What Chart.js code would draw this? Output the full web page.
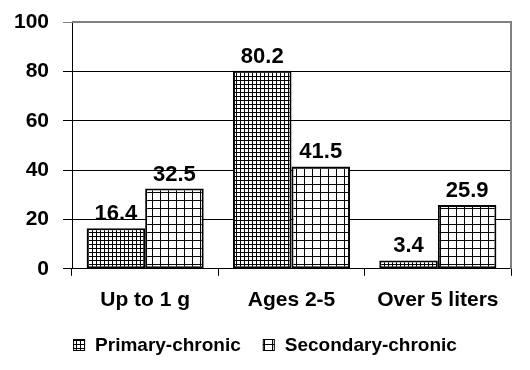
<!DOCTYPE html>
<html>
<head>
<meta charset="utf-8">
<script src="https://cdn.jsdelivr.net/npm/chart.js@4.4.0/dist/chart.umd.min.js"></script>
<style>
  html, body { margin: 0; padding: 0; background: #fff; }
  #wrap { width: 530px; height: 370px; }
</style>
</head>
<body>
<div id="wrap"><canvas id="chart" width="530" height="370"></canvas></div>
<script>
const categories = ['Up to 1 g', 'Ages 2-5', 'Over 5 liters'];
const primaryChronic = [16.4, 80.2, 3.4];
const secondaryChronic = [32.5, 41.5, 25.9];
const yTicks = [0, 20, 40, 60, 80, 100];

const FONT = "'Liberation Sans', Arial, sans-serif";

// grid hatch pattern: black lines on white, cell size in px
function gridPattern(cell) {
  const c = document.createElement('canvas');
  c.width = cell;
  c.height = cell;
  const g = c.getContext('2d');
  g.fillStyle = '#fff';
  g.fillRect(0, 0, cell, cell);
  g.fillStyle = '#000';
  g.fillRect(0, 0, cell, 1);
  g.fillRect(0, 0, 1, cell);
  return g.createPattern(c, 'repeat');
}

const valueLabels = {
  id: 'valueLabels',
  afterDatasetsDraw(chart) {
    const ctx = chart.ctx;
    ctx.save();
    ctx.font = 'bold 22px ' + FONT;
    ctx.fillStyle = '#000';
    ctx.textAlign = 'center';
    ctx.textBaseline = 'bottom';
    chart.data.datasets.forEach((ds, i) => {
      chart.getDatasetMeta(i).data.forEach((bar, j) => {
        ctx.fillText(String(ds.data[j]), bar.x, bar.y - 3);
      });
    });
    ctx.restore();
  }
};

const frame = {
  id: 'frame',
  beforeDatasetsDraw(chart) {
    const { ctx, chartArea: a } = chart;
    ctx.save();
    ctx.strokeStyle = '#808080';
    ctx.lineWidth = 2;
    ctx.beginPath();
    ctx.moveTo(a.left, a.top);
    ctx.lineTo(a.right, a.top);
    ctx.lineTo(a.right, a.bottom);
    ctx.stroke();
    ctx.restore();
  }
};

// legend drawn by hand so the space under the axis stays predictable
const bottomLegend = {
  id: 'bottomLegend',
  afterDraw(chart) {
    const ctx = chart.ctx;
    const box = 12, gap = 10, spacing = 22, y = 345;
    ctx.save();
    ctx.font = 'bold 19px ' + FONT;
    ctx.textBaseline = 'middle';
    ctx.textAlign = 'left';
    const items = chart.data.datasets.map(ds => ({
      ds, w: box + gap + ctx.measureText(ds.label).width
    }));
    const total = items.reduce((s, it) => s + it.w, 0) + spacing * (items.length - 1);
    let x = (chart.width - total) / 2;
    items.forEach(it => {
      ctx.fillStyle = it.ds.backgroundColor;
      ctx.fillRect(x, y - box / 2, box, box);
      ctx.strokeStyle = '#000';
      ctx.lineWidth = 1;
      ctx.strokeRect(x + 0.5, y - box / 2 + 0.5, box - 1, box - 1);
      ctx.fillStyle = '#000';
      ctx.fillText(it.ds.label, x + box + gap, y + 1);
      x += it.w + spacing;
    });
    ctx.restore();
  }
};

const ctx = document.getElementById('chart').getContext('2d');
new Chart(ctx, {
  type: 'bar',
  data: {
    labels: categories,
    datasets: [
      {
        label: 'Primary-chronic',
        data: primaryChronic,
        backgroundColor: gridPattern(4),
        borderColor: '#000',
        borderWidth: 2,
        borderSkipped: false,
        categoryPercentage: 0.8,
        barPercentage: 1.0,
      },
      {
        label: 'Secondary-chronic',
        data: secondaryChronic,
        backgroundColor: gridPattern(8),
        borderColor: '#000',
        borderWidth: 2,
        borderSkipped: false,
        categoryPercentage: 0.8,
        barPercentage: 1.0,
      },
    ],
  },
  options: {
    responsive: false,
    animation: false,
    layout: {
      padding: { top: 22, right: 19, left: 0, bottom: 45 },
    },
    plugins: {
      title: { display: false },
      tooltip: { enabled: false },
      legend: { display: false },
    },
    scales: {
      x: {
        grid: {
          display: true,
          drawOnChartArea: false,
          drawTicks: true,
          tickLength: 7,
          offset: true,
          color: '#000',
        },
        border: { display: true, color: '#000', width: 1 },
        ticks: {
          color: '#000',
          padding: 12,
          font: { size: 21, weight: 'bold', family: FONT },
        },
      },
      y: {
        min: 0,
        max: 100,
        afterBuildTicks(scale) {
          scale.ticks = yTicks.map(v => ({ value: v }));
        },
        afterFit(scale) {
          scale.width = 72;
          scale.paddingTop = 0;
          scale.paddingBottom = 0;
        },
        grid: {
          color: c => (c.tick && c.tick.value === 100 ? '#808080' : '#000'),
          lineWidth: 1,
          tickLength: 9,
        },
        border: { display: true, color: '#000', width: 1 },
        ticks: {
          color: '#000',
          padding: 14,
          font: { size: 21, weight: 'bold', family: FONT },
        },
      },
    },
  },
  plugins: [frame, valueLabels, bottomLegend],
});
</script>
</body>
</html>
